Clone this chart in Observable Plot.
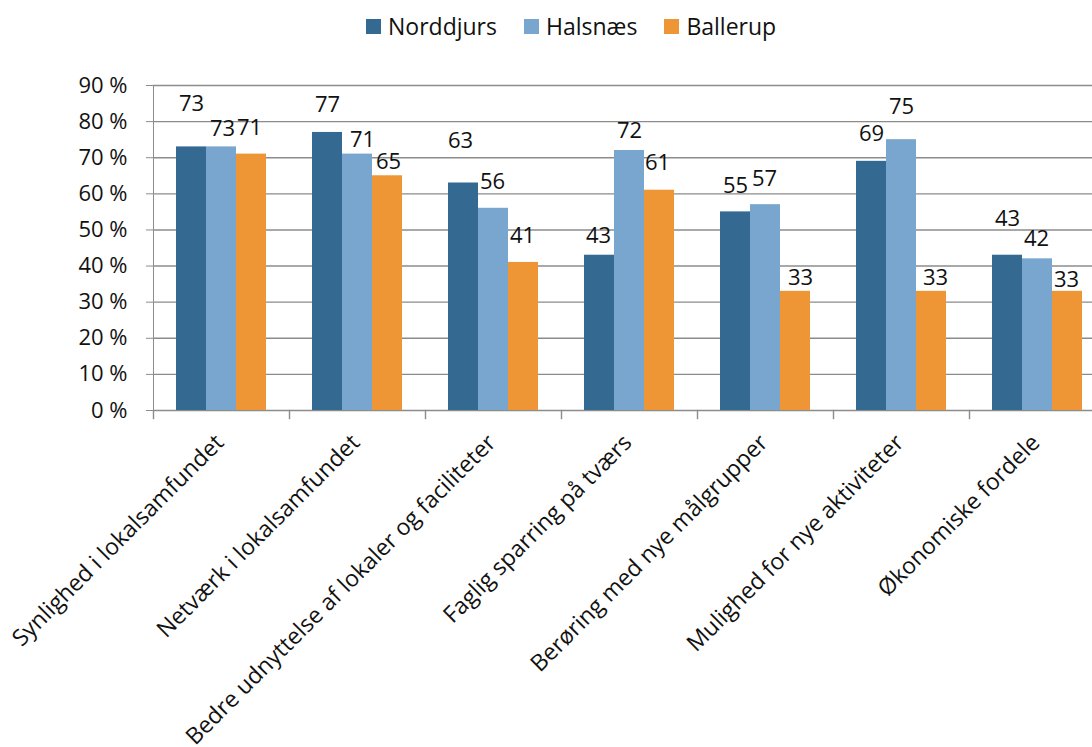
<!DOCTYPE html>
<html><head><meta charset="utf-8">
<script src="https://cdn.jsdelivr.net/npm/d3@7"></script>
<script src="https://cdn.jsdelivr.net/npm/@observablehq/plot@0.6"></script>
<style>
html,body{margin:0;padding:0;background:#fff;overflow:hidden;width:1092px;height:747px}
#legend{position:relative;height:50px;font-family:"Open Sans",sans-serif;font-size:23px;color:#111}
#legend .row{position:absolute;left:366px;top:10px;display:flex;align-items:center;height:32px}
#legend .item{display:flex;align-items:center;margin-right:27px}
#legend .sw{width:15px;height:15px;margin-right:7px}
#chart svg{overflow:hidden;display:block}
#chart svg text{fill:#111}
</style></head><body>
<div id="legend"></div><div id="chart"></div>
<script>
const categories = ["Synlighed i lokalsamfundet", "Netværk i lokalsamfundet", "Bedre udnyttelse af lokaler og faciliteter", "Faglig sparring på tværs", "Berøring med nye målgrupper", "Mulighed for nye aktiviteter", "Økonomiske fordele"];
const series = ["Norddjurs", "Halsnæs", "Ballerup"];
const norddjurs = [73, 77, 63, 43, 55, 69, 43];
const halsnaes = [73, 71, 56, 72, 57, 75, 42];
const ballerup = [71, 65, 41, 61, 33, 33, 33];
const yTicks = [0, 10, 20, 30, 40, 50, 60, 70, 80, 90];
const colors = ["#346a92", "#79a6cf", "#ee9535"];

// label placement nudges (pixels), as in the reference
const labelLift = [[43, 27, 42, 19, 26, 27, 36], [18, 14, 26, 20, 26, 33, 20], [26, 14, 26, 27, 13, 13, 11]];
const labelShift = [[0, 0, -3, -1, 0, 0, 0], [1, 5, -1, 0, -1, 0, -1], [-2, 1, -1, -2, 5, 4, -1]];

const values = [norddjurs, halsnaes, ballerup];
const rows = categories.flatMap((c, i) => series.map((s, k) => ({category: c, series: s, value: values[k][i], lift: labelLift[k][i], shift: labelShift[k][i]})));

const gray = "#8c8c8c";

// legend
const row = document.createElement("div");
row.className = "row";
series.forEach((s, k) => {
  const it = document.createElement("div");
  it.className = "item";
  const sw = document.createElement("span");
  sw.className = "sw";
  sw.style.background = colors[k];
  const t = document.createElement("span");
  t.textContent = s;
  it.append(sw, t);
  row.append(it);
});
document.getElementById("legend").append(row);

const chart = Plot.plot({
  width: 1092,
  height: 697,
  marginTop: 35,
  marginBottom: 337,
  marginLeft: 153,
  marginRight: 0,
  style: {fontFamily: "'Open Sans', sans-serif", fontSize: "22px", color: gray, background: "#fff", overflow: "hidden"},
  fx: {domain: categories, range: [153, 1105], padding: 0, axis: null},
  x: {domain: series, paddingInner: 0, paddingOuter: 0.745, axis: null},
  y: {domain: [0, 90], ticks: yTicks, tickSize: 7, tickPadding: 19, tickFormat: d => `${d} %`, line: true, label: null},
  color: {domain: series, range: colors},
  marks: [
    Plot.ruleY(yTicks, {stroke: gray, strokeWidth: 1.4}),
    Plot.barY(rows, {fx: "category", x: "series", y: "value", fill: "series"}),
    ...rows.map(r => Plot.text([r], {fx: "category", x: "series", y: "value", text: d => String(d.value), dy: -r.lift, dx: r.shift, fill: "#111"})),
    Plot.frame({anchor: "left", insetTop: 325, insetBottom: -8, stroke: gray, strokeWidth: 1.4}),
    Plot.text(categories, {fx: d => d, text: d => d, frameAnchor: "bottom", rotate: -45, textAnchor: "end", lineAnchor: "top", dx: -8, dy: 22, fontSize: 23, fill: "#111"})
  ]
});
document.getElementById("chart").append(chart);
</script></body></html>
